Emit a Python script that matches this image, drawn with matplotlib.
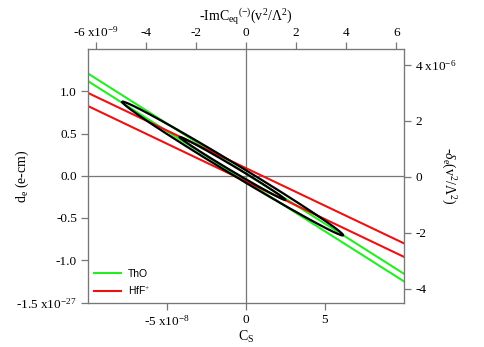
import numpy as np
import matplotlib
matplotlib.use("Agg")
import matplotlib.pyplot as plt

plt.rcParams['font.family'] = ['Liberation Serif', 'DejaVu Serif']
plt.rcParams['mathtext.fontset'] = 'custom'
plt.rcParams['mathtext.rm'] = 'Liberation Serif'
plt.rcParams['mathtext.it'] = 'Liberation Serif:italic'
plt.rcParams['mathtext.bf'] = 'Liberation Serif:bold'

# ---- data (Cs in units of 1e-8, d_e in units of 1e-27) ----
cs_ends = [-10.0, 10.0]
tho_upper = [1.21, -1.16]
tho_lower = [1.12, -1.25]
hff_upper = [0.98, -0.80]
hff_lower = [0.825, -0.96]

ell_center = [-0.84, 0.085]
ell_outer_tip = [-7.83, 0.873]
ell_outer_half = 0.075
ell_inner_tip = [-4.18, 0.456]
ell_inner_half = 0.035

bottom_ticks = [-5, 0, 5]
bottom_labels = ['-5 x10$^{-8}$', '0', '5']
left_ticks = [-1.5, -1.0, -0.5, 0.0, 0.5, 1.0]
left_labels = ['-1.5 x10$^{-27}$', '-1.0', '-0.5', '0.0', '0.5', '1.0']
top_ticks = [-6, -4, -2, 0, 2, 4, 6]
top_labels = ['-6 x10$^{-9}$', '-4', '-2', '0', '2', '4', '6']
right_ticks = [-4, -2, 0, 2, 4]
right_labels = ['-4', '-2', '0', '2', '4 x10$^{-6}$']

W, H = 485, 347
fig = plt.figure(figsize=(W / 100, H / 100), dpi=100)
L, R, T, B = 88, 404, 49, 302.5
ax = fig.add_axes([L / W, 1 - B / H, (R - L) / W, (B - T) / H])

gray = '#777777'

ax.axhline(0, color=gray, lw=0.9, zorder=1)
ax.axvline(0, color=gray, lw=0.9, zorder=1)

g = '#22ee22'
r = '#ee1111'
ax.plot(cs_ends, tho_upper, color=g, lw=1.5, label='ThO', zorder=2)
ax.plot(cs_ends, tho_lower, color=g, lw=1.5, zorder=2)
ax.plot(cs_ends, hff_upper, color=r, lw=1.5, label='HfF$^{+}$', zorder=2)
ax.plot(cs_ends, hff_lower, color=r, lw=1.5, zorder=2)

t = np.linspace(0, 2 * np.pi, 400)
for tip, half in [(ell_outer_tip, ell_outer_half), (ell_inner_tip, ell_inner_half)]:
    A = tip[0] - ell_center[0]
    Bv = tip[1] - ell_center[1]
    x = ell_center[0] + A * np.cos(t)
    y = ell_center[1] + Bv * np.cos(t) + half * np.sin(t)
    ax.plot(x, y, color='black', lw=1.6, zorder=3)

ax.set_xlim(-10, 10)
ax.set_ylim(-1.5, 1.5)
ax.set_xticks(bottom_ticks)
ax.set_xticklabels(bottom_labels, fontsize=9.5)
ax.set_yticks(left_ticks)
ax.set_yticklabels(left_labels, fontsize=9.5)
for s in ax.spines.values():
    s.set_color(gray)
ax.tick_params(direction='out', length=5, width=0.9, color=gray, pad=3)

ax.set_xlabel('C$_{\\mathrm{S}}$', fontsize=10)
ax.xaxis.set_label_coords(0.5, -0.105)
ax.set_ylabel('d$_{\\mathrm{e}}$ (e-cm)', fontsize=10)
ax.yaxis.set_label_coords(-0.18, 0.5)

leg = ax.legend(loc='lower left', frameon=False, prop={'family': 'Liberation Sans', 'size': 7.5},
                handlelength=2.6, handletextpad=0.6, labelspacing=0.5, borderaxespad=0.2,
                bbox_to_anchor=(0.0, 0.0))

# top axis
axt = ax.twiny()
axt.set_xlim(-6.33, 6.31)
axt.set_xticks(top_ticks)
axt.set_xticklabels(top_labels, fontsize=9.5)
axt.tick_params(direction='out', length=5, width=0.9, color=gray, pad=2)
axt.set_xlabel('-ImC$_{\\mathrm{eq}}$$^{(\\mathrm{-})}$(v$^{2}$/$\\Lambda^{2}$)', fontsize=10)
axt.xaxis.set_label_coords(0.5, 1.11)
for s in axt.spines.values():
    s.set_color(gray)

# right axis
axr = ax.twinx()
axr.set_ylim(-4.5, 4.56)
axr.set_yticks(right_ticks)
axr.set_yticklabels(right_labels, fontsize=9.5)
axr.tick_params(direction='out', length=5, width=0.9, color=gray, pad=3)
axr.set_ylabel('-$\\delta_{\\mathrm{e}}$(v$^{2}$/$\\Lambda^{2}$)', fontsize=10, rotation=-90)
axr.yaxis.set_label_coords(1.17, 0.5)
for s in axr.spines.values():
    s.set_color(gray)

fig.savefig('out.png', dpi=100)
